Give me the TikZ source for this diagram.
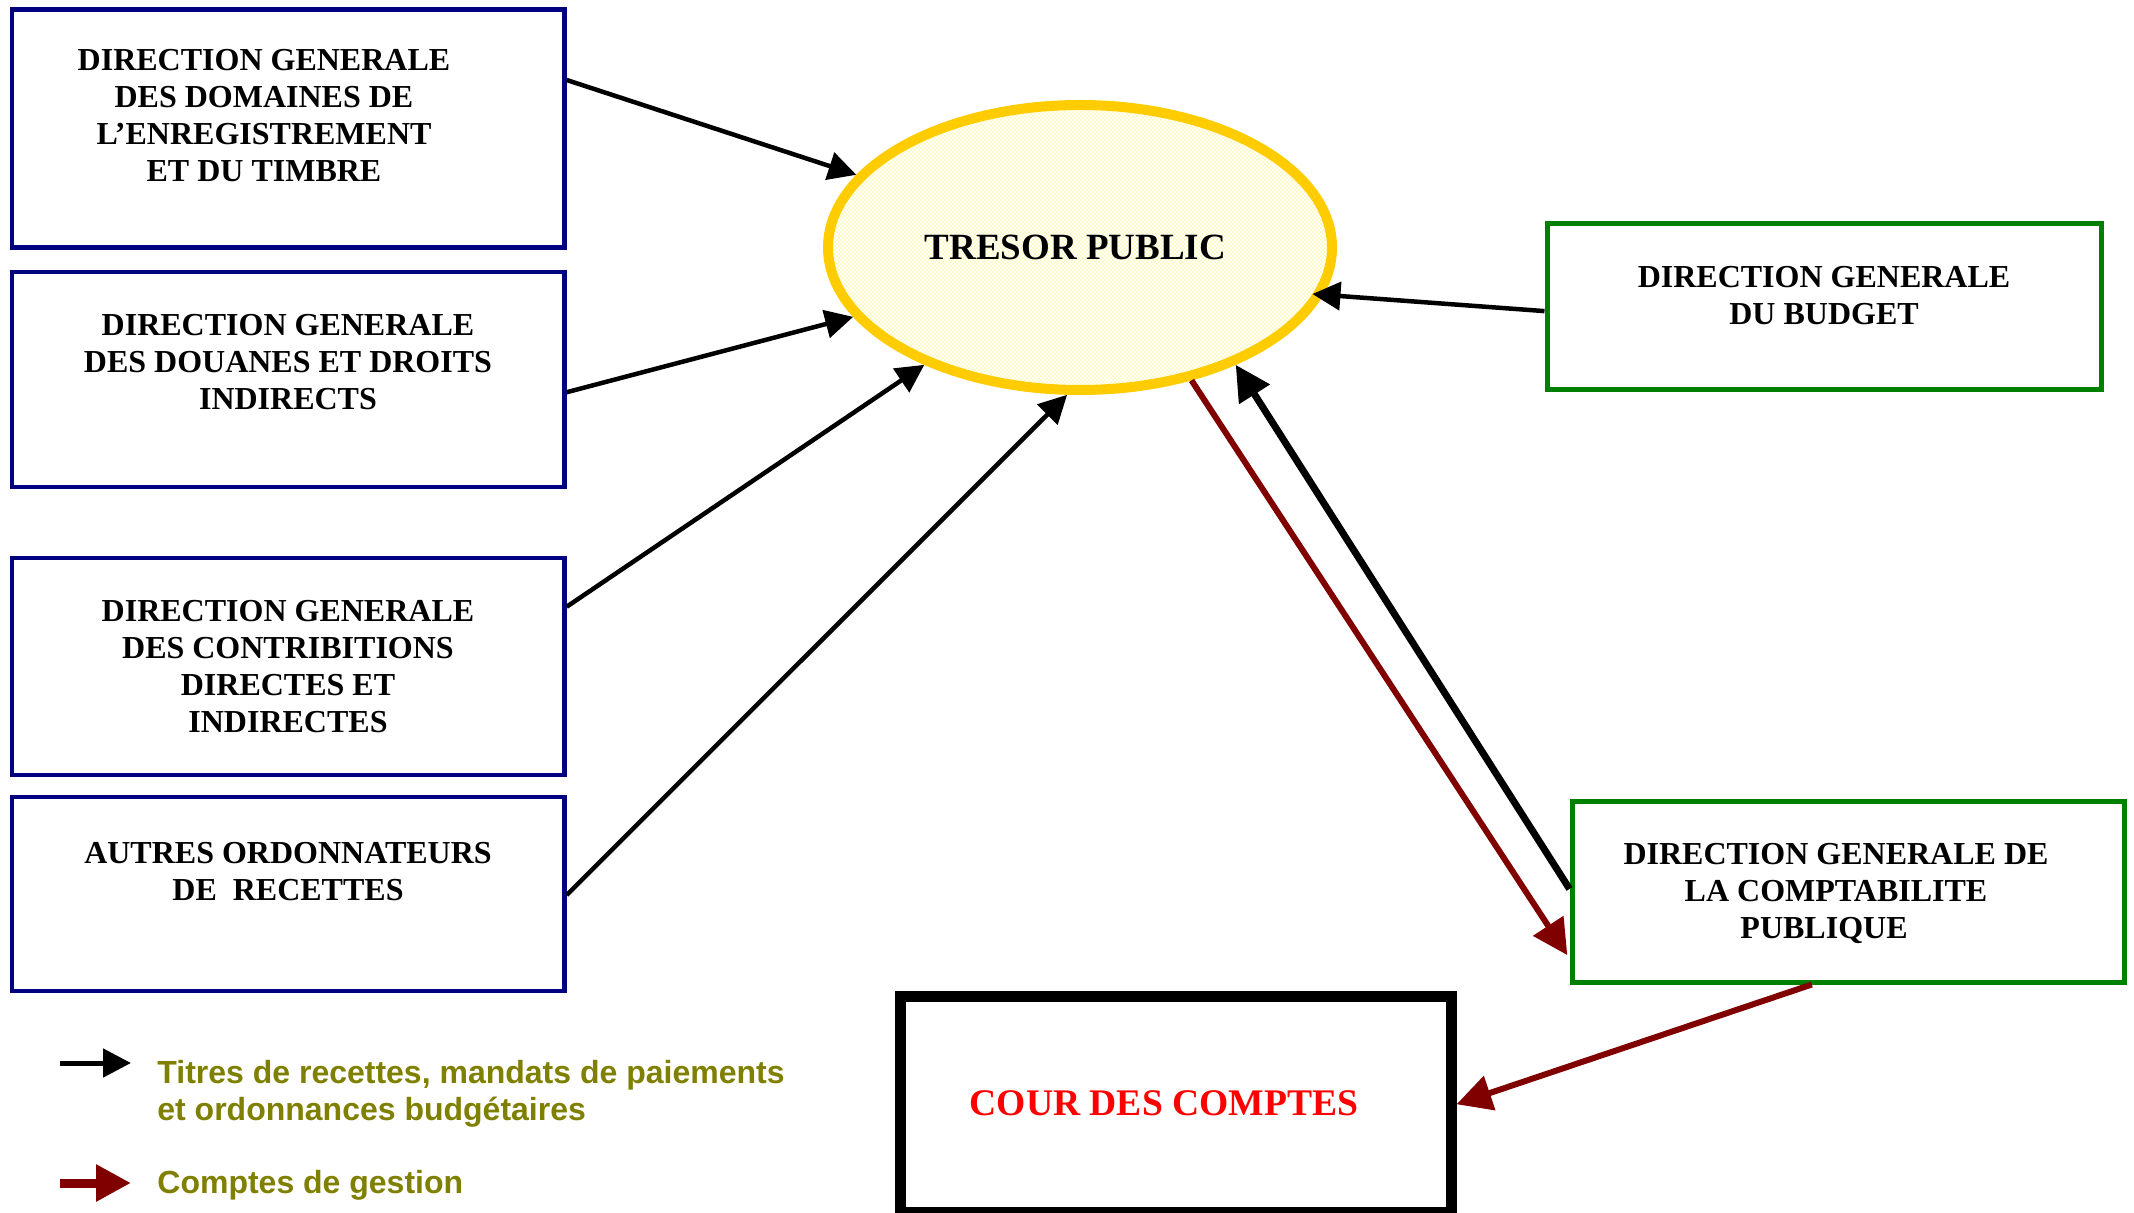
\documentclass[tikz,border=0pt]{standalone}
\usepackage{fontspec}
\setmainfont{Liberation Serif}
\newfontfamily\sansleg{Liberation Sans}
\usetikzlibrary{arrows.meta,shapes.geometric,calc,patterns}
\definecolor{navyb}{HTML}{000080}
\definecolor{greenb}{HTML}{008000}
\definecolor{ygold}{HTML}{FFCC00}
\definecolor{dred}{HTML}{800000}
\definecolor{olivet}{HTML}{808000}
\definecolor{redt}{HTML}{FF0000}
\definecolor{ydot}{HTML}{FFF200}
\pgfdeclarepatternformonly{ydots}{\pgfqpoint{-0.1pt}{-0.1pt}}{\pgfqpoint{2.1pt}{2.1pt}}{\pgfqpoint{2pt}{2pt}}{%
  \pgfpathcircle{\pgfqpoint{0.5pt}{0.5pt}}{0.35pt}%
  \pgfpathcircle{\pgfqpoint{1.5pt}{1.5pt}}{0.35pt}%
  \pgfusepath{fill}}
\tikzset{
  bluebox/.style={draw=navyb, line width=2.2pt, rectangle, inner sep=0pt, minimum width=276.25pt},
  greenbox/.style={draw=greenb, line width=2.5pt, rectangle, inner sep=0pt},
  boxtext/.style={align=center, inner sep=0pt, font=\fontsize{16pt}{18.5pt}\selectfont\bfseries},
  legtext/.style={inner sep=0pt, text=olivet, font=\sansleg\fontsize{16pt}{18.5pt}\selectfont\bfseries},
  thinarrow/.style={draw=black, line width=2.25pt, -{Triangle[length=14pt,width=14pt]}},
  thickarrow/.style={draw=black, line width=3.5pt, -{Triangle[length=17.5pt,width=17.5pt]}},
  redarrow/.style={draw=dred, line width=3pt, -{Triangle[length=17.5pt,width=17.5pt]}},
}
\begin{document}
\begin{tikzpicture}[x=0.5pt,y=-0.5pt]
\fill[white] (0,0) rectangle (2134,1213);
\useasboundingbox (0,0) rectangle (2134,1213);

% left boxes
\node[bluebox, minimum height=119pt] (b1) at (288.25,128.5) {};
\node[bluebox, minimum height=107.5pt] (b2) at (288.25,379.5) {};
\node[bluebox, minimum height=108.5pt] (b3) at (288.25,666.5) {};
\node[bluebox, minimum height=97pt] (b4) at (288.25,894) {};
\node[boxtext] (t1) at (264,116) {DIRECTION GENERALE\\DES DOMAINES DE\\L’ENREGISTREMENT\\ET DU TIMBRE};
\node[boxtext] (t2) at (288,362) {DIRECTION GENERALE\\DES DOUANES ET DROITS\\INDIRECTS};
\node[boxtext] (t3) at (288,666.5) {DIRECTION GENERALE\\DES CONTRIBITIONS\\DIRECTES ET\\INDIRECTES};
\node[boxtext] (t4) at (288,871.5) {AUTRES ORDONNATEURS\\DE\ \ RECETTES};

% right boxes
\node[greenbox, minimum width=277pt, minimum height=83pt] (bud) at (1824,307) {};
\node[boxtext] (tbud) at (1824,296) {DIRECTION GENERALE\\DU BUDGET};
\node[greenbox, minimum width=276pt, minimum height=90.5pt] (cp) at (1848,891.5) {};
\node[boxtext] (tcp) at (1836,893.5) {DIRECTION GENERALE DE\\LA COMPTABILITE\hspace*{12pt}\\PUBLIQUE\hspace*{12pt}};

% cour des comptes
\node[draw=black, line width=5.5pt, rectangle, inner sep=0pt, minimum width=275.25pt, minimum height=107.75pt] (cc) at (1175.75,1104.25) {};
\node[inner sep=0pt, text=redt, font=\fontsize{18.8pt}{20pt}\selectfont\bfseries] (tcc) at (1164,1103) {COUR DES COMPTES};

% tresor public
\node[ellipse, draw=ygold, line width=5pt, minimum width=252pt, minimum height=142.5pt, inner sep=0pt,
      preaction={fill=white}, pattern=ydots, pattern color=ydot,
      font=\fontsize{18.5pt}{20pt}\selectfont\bfseries] (tp) at (1080,247.5) {TRESOR PUBLIC\hspace*{4.5pt}};

% connectors
\draw[thinarrow] ($(b1.north east)!0.30!(b1.south east)$) -- (tp.162.4);
\draw[thinarrow] ($(b2.north east)!0.558!(b2.south east)$) -- (tp.197.6);
\draw[thinarrow] ($(b3.north east)!0.23!(b3.south east)$) -- (tp.217.5);
\draw[thinarrow] ($(b4.north east)!0.505!(b4.south east)$) -- (tp.265.3);
\draw[thinarrow, shorten >=-5.5pt] ($(bud.north west)!0.524!(bud.south west)$) -- (tp.349.9);
\draw[thickarrow] ($(cp.north west)!0.486!(cp.south west)$) -- (tp.323.9);
\draw[redarrow, shorten >=2pt] (tp.310.7) -- ($(cp.north west)!0.86!(cp.south west)$);
\draw[redarrow] ($(cp.south west)!0.435!(cp.south east)$) -- (cc.east);

% legend
\coordinate (l1s) at (60,1063);
\coordinate (l1e) at (131,1063);
\coordinate (l2s) at (60,1183);
\coordinate (l2e) at (131,1183);
\draw[draw=black, line width=2.5pt, -{Triangle[length=14pt,width=14pt]}] (l1s) -- (l1e);
\draw[draw=dred, line width=4.5pt, -{Triangle[length=17.5pt,width=17.5pt]}] (l2s) -- (l2e);
\node[legtext, anchor=west, align=left] (lt1) at (157,1093.5) {Titres de recettes, mandats de paiements\\et ordonnances budgétaires};
\node[legtext, anchor=base west] (lt2) at (157,1193) {Comptes de gestion};
\end{tikzpicture}
\end{document}
